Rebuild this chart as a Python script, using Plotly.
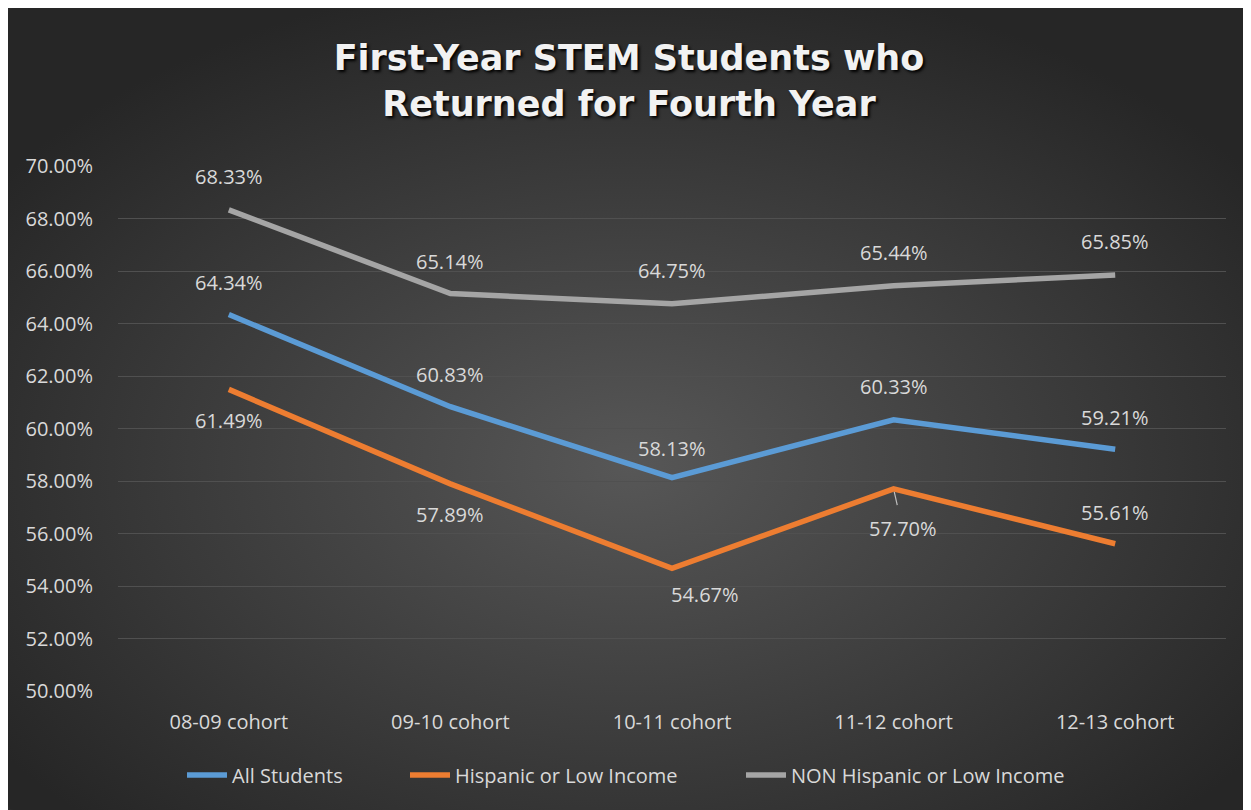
import base64
import plotly.graph_objects as go

# ---- data ----
cohorts = ["08-09 cohort", "09-10 cohort", "10-11 cohort", "11-12 cohort", "12-13 cohort"]
all_students = [64.34, 60.83, 58.13, 60.33, 59.21]
hispanic_low_income = [61.49, 57.89, 54.67, 57.70, 55.61]
non_hispanic_low_income = [68.33, 65.14, 64.75, 65.44, 65.85]
y_ticks = [50, 52, 54, 56, 58, 60, 62, 64, 66, 68, 70]

series_names = ["All Students", "Hispanic or Low Income", "NON Hispanic or Low Income"]
series_values = [all_students, hispanic_low_income, non_hispanic_low_income]
colors = ["#5B9BD5", "#ED7D31", "#A5A5A5"]

# label placement (style only): (xshift, yshift) per point
label_offsets = [
    [(0, 32), (0, 32), (0, 29), (0, 33), (0, 32)],
    [(0, -31), (0, -31), (33, -26), None, (0, 31)],
    [(0, 33), (0, 32), (0, 33), (0, 33), (0, 33)],
]
legend_x_px = [174, 397, 733]  # paper-pixel start of each legend entry

W, H = 1243, 802
ML, MR, MT, MB = 110, 25, 158, 119
PW, PH = W - ML - MR, H - MT - MB

svg = (
    f'<svg xmlns="http://www.w3.org/2000/svg" width="{W}" height="{H}" viewBox="0 0 {W} {H}">'
    '<defs><radialGradient id="g" cx="50%" cy="57%" r="62%">'
    '<stop offset="0%" stop-color="#575757"/>'
    '<stop offset="100%" stop-color="#262626"/>'
    '</radialGradient></defs>'
    f'<rect x="0" y="0" width="{W}" height="{H}" rx="6" ry="6" fill="url(#g)"/></svg>'
)
bg_src = "data:image/svg+xml;base64," + base64.b64encode(svg.encode()).decode()

FONT = "Open Sans, Noto Sans, sans-serif"
TXT = "#D9D9D9"

fig = go.Figure()
legend_ids = ["legend", "legend2", "legend3"]
for name, vals, col, lid in zip(series_names, series_values, colors, legend_ids):
    fig.add_trace(go.Scatter(
        x=cohorts, y=vals, name=name, mode="lines",
        line=dict(color=col, width=5.5),
        legend=lid,
        hovertemplate="%{y:.2f}%<extra>" + name + "</extra>",
    ))

label_font = dict(family=FONT, size=20, color=TXT)
annotations = []
for si, vals in enumerate(series_values):
    for pi, v in enumerate(vals):
        off = label_offsets[si][pi]
        if off is None:
            annotations.append(dict(
                x=cohorts[pi], y=v, xref="x", yref="y", text=f"{v:.2f}%",
                showarrow=True, arrowhead=0, arrowwidth=1.2, arrowcolor="#BFBFBF",
                ax=9, ay=40, standoff=3, startstandoff=9, font=label_font,
            ))
        else:
            annotations.append(dict(
                x=cohorts[pi], y=v, xref="x", yref="y", text=f"{v:.2f}%",
                showarrow=False, xshift=off[0], yshift=off[1], font=label_font,
            ))

legend_common = dict(
    orientation="h", xanchor="left", yanchor="middle",
    y=(PH - (767 - MT)) / PH,
    font=dict(family=FONT, size=20, color=TXT),
    bgcolor="rgba(0,0,0,0)", itemwidth=40,
)

fig.update_layout(
    width=W, height=H,
    margin=dict(l=ML, r=MR, t=MT, b=MB, pad=0),
    paper_bgcolor="#2a2a2a",
    plot_bgcolor="rgba(0,0,0,0)",
    title=dict(
        text="First-Year STEM Students who<br>Returned for Fourth Year",
        x=(621 - ML) / PW, xref="paper", xanchor="center",
        y=1 - 62 / H, yref="container", yanchor="middle",
        font=dict(family="DejaVu Sans, sans-serif", size=35, color="#F2F2F2",
                  weight="bold", shadow="2px 2px 3px #000000"),
    ),
    xaxis=dict(
        showgrid=False, zeroline=False, showline=False,
        ticks="outside", ticklen=13, tickcolor="rgba(0,0,0,0)",
        tickfont=dict(family=FONT, size=20, color=TXT),
        range=[-0.5, 4.5], fixedrange=True,
    ),
    yaxis=dict(
        range=[50, 70], tickvals=y_ticks,
        ticktext=[f"{t:.2f}%" for t in y_ticks],
        showgrid=True, gridcolor="#505050", gridwidth=1,
        zeroline=False, showline=False,
        ticks="outside", ticklen=20, tickcolor="rgba(0,0,0,0)",
        tickfont=dict(family=FONT, size=20, color=TXT),
        fixedrange=True,
    ),
    legend=dict(legend_common, x=(legend_x_px[0] - ML) / PW),
    legend2=dict(legend_common, x=(legend_x_px[1] - ML) / PW),
    legend3=dict(legend_common, x=(legend_x_px[2] - ML) / PW),
    annotations=annotations,
    images=[dict(
        source=bg_src, xref="paper", yref="paper",
        x=-ML / PW, y=(PH + MT) / PH,
        sizex=W / PW, sizey=H / PH,
        xanchor="left", yanchor="top", sizing="stretch", layer="below",
    )],
    showlegend=True,
)

fig.write_html("out.html")
